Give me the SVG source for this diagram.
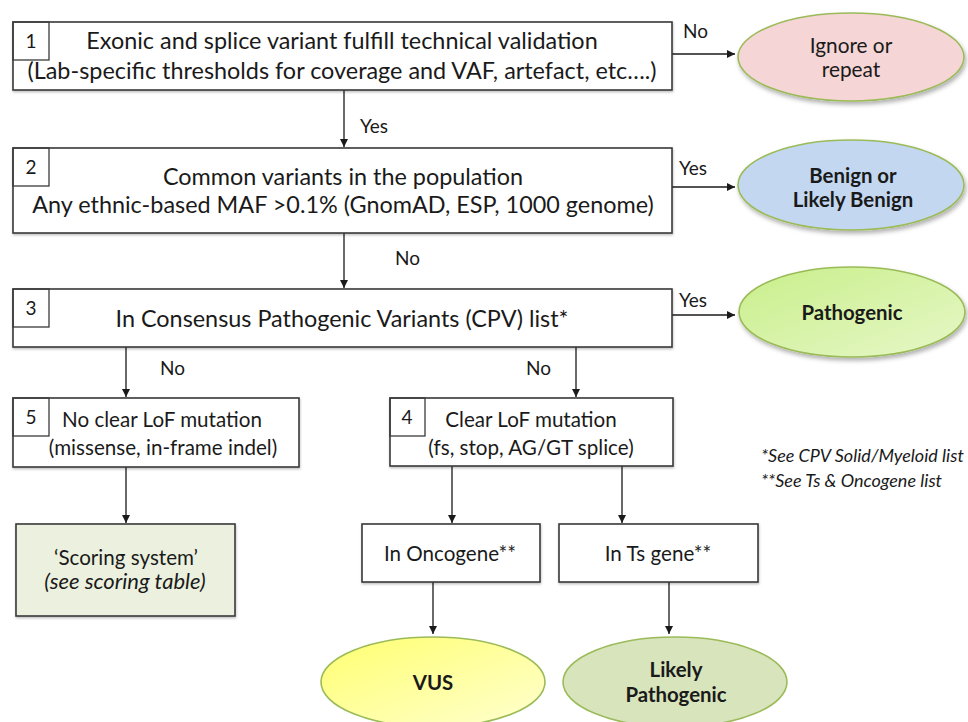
<svg xmlns="http://www.w3.org/2000/svg" width="968" height="722" viewBox="0 0 968 722">
<defs>
<style>
text{font-family:Lato,"Liberation Sans",sans-serif;fill:#1a1a1a}
.box{fill:#fff;stroke:#3a3a3a;stroke-width:1.6}
.num{fill:none;stroke:#3a3a3a;stroke-width:1.3}
.nt{font-size:19px;text-anchor:middle}
.mt{font-size:23.4px;text-anchor:middle}
.st{font-size:20.6px;text-anchor:middle}
.it{font-size:22px;font-style:italic;text-anchor:middle}
.lb{font-size:19px}
.et{font-size:20.8px;text-anchor:middle}
.eb{font-size:20.4px;font-weight:bold;text-anchor:middle}
.fn{font-size:18px;font-style:italic}
.ell{stroke:#9bbb59;stroke-width:1.6}
.conn line{stroke:#1a1a1a;stroke-width:1.3;marker-end:url(#ah)}
</style>
<marker id="ah" viewBox="0 0 10 10" refX="10" refY="5" markerWidth="8" markerHeight="8" markerUnits="userSpaceOnUse" orient="auto">
<path d="M0,0 L10,5 L0,10 z" fill="#1a1a1a"/>
</marker>
<filter id="sh" x="-20%" y="-20%" width="150%" height="160%">
<feDropShadow dx="1.5" dy="3" stdDeviation="2.2" flood-color="#000" flood-opacity="0.3"/>
</filter>
<filter id="bsh" x="-5%" y="-10%" width="110%" height="130%">
<feDropShadow dx="0.5" dy="1.5" stdDeviation="0.8" flood-color="#000" flood-opacity="0.25"/>
</filter>
<linearGradient id="gPath" x1="0" y1="0" x2="1" y2="1">
<stop offset="0" stop-color="#c9ef8a"/>
<stop offset="1" stop-color="#e6f7c8"/>
</linearGradient>
<linearGradient id="gVus" x1="0" y1="0" x2="1" y2="1">
<stop offset="0" stop-color="#ffff70"/>
<stop offset="1" stop-color="#ffffd0"/>
</linearGradient>
</defs>

<g id="connectors" class="conn">
<line x1="672" y1="54" x2="735" y2="54"/>
<line x1="344" y1="90" x2="344" y2="147"/>
<line x1="672" y1="187" x2="735" y2="187"/>
<line x1="344" y1="233" x2="344" y2="288"/>
<line x1="672" y1="315" x2="735" y2="315"/>
<line x1="126" y1="347" x2="126" y2="397"/>
<line x1="576" y1="347" x2="576" y2="397"/>
<line x1="126" y1="467" x2="126" y2="523"/>
<line x1="452" y1="466" x2="452" y2="523"/>
<line x1="622" y1="466" x2="622" y2="523"/>
<line x1="433" y1="582" x2="433" y2="634"/>
<line x1="669" y1="582" x2="669" y2="634"/>
</g>

<g id="labels">
<text class="lb" x="683" y="38">No</text>
<text class="lb" x="360" y="133">Yes</text>
<text class="lb" x="679" y="175">Yes</text>
<text class="lb" x="395" y="265">No</text>
<text class="lb" x="679" y="307">Yes</text>
<text class="lb" x="160" y="375">No</text>
<text class="lb" x="526" y="375">No</text>
</g>

<g id="node1">
<rect class="box" x="13" y="22" width="659" height="68" filter="url(#bsh)"/>
<rect class="num" x="13" y="22" width="36" height="38"/>
<text class="nt" x="31" y="48">1</text>
<text class="mt" x="342" y="49">Exonic and splice variant fulfill technical validation</text>
<text class="mt" x="342" y="79">(Lab-specific thresholds for coverage and VAF, artefact, etc….)</text>
</g>

<g id="node2">
<rect class="box" x="13" y="148" width="659" height="85" filter="url(#bsh)"/>
<rect class="num" x="13" y="148" width="36" height="38"/>
<text class="nt" x="31" y="174">2</text>
<text class="mt" x="343" y="185">Common variants in the population</text>
<text class="mt" x="343" y="213">Any ethnic-based MAF &gt;0.1% (GnomAD, ESP, 1000 genome)</text>
</g>

<g id="node3">
<rect class="box" x="13" y="289" width="659" height="58" filter="url(#bsh)"/>
<rect class="num" x="13" y="289" width="36" height="38"/>
<text class="nt" x="31" y="315">3</text>
<text class="mt" x="342" y="327" font-size="24.5">In Consensus Pathogenic Variants (CPV) list*</text>
</g>

<g id="node5">
<rect class="box" x="13" y="398" width="286" height="69" filter="url(#bsh)"/>
<rect class="num" x="13" y="398" width="36" height="38"/>
<text class="nt" x="31" y="424">5</text>
<text class="st" x="162" y="427">No clear LoF mutation</text>
<text class="st" x="163" y="455">(missense, in-frame indel)</text>
</g>

<g id="node4">
<rect class="box" x="390" y="398" width="283" height="68" filter="url(#bsh)"/>
<rect class="num" x="390" y="398" width="35" height="38"/>
<text class="nt" x="407" y="424">4</text>
<text class="st" x="531" y="427">Clear LoF mutation</text>
<text class="st" x="531" y="455">(fs, stop, AG/GT splice)</text>
</g>

<g id="scoring">
<rect x="16" y="524" width="219" height="92" fill="#ebf1de" stroke="#3a3a3a" stroke-width="1.6" filter="url(#bsh)"/>
<text class="st" x="126" y="565">‘Scoring system’</text>
<text class="it" x="125" y="589">(see scoring table)</text>
</g>

<g id="oncogene">
<rect class="box" x="362" y="524" width="178" height="58" filter="url(#bsh)"/>
<text class="st" x="450" y="561">In Oncogene**</text>
</g>

<g id="tsgene">
<rect class="box" x="559" y="524" width="199" height="58" filter="url(#bsh)"/>
<text class="st" x="658" y="561">In Ts gene**</text>
</g>

<g id="ignore">
<ellipse class="ell" cx="851" cy="57" rx="113" ry="44" fill="#f5d5d5" filter="url(#sh)"/>
<text class="et" x="851" y="53">Ignore or</text>
<text class="et" x="851" y="77">repeat</text>
</g>

<g id="benign">
<ellipse class="ell" cx="851" cy="185" rx="113" ry="45" fill="#c3d8f0" filter="url(#sh)"/>
<text class="eb" x="853" y="183">Benign or</text>
<text class="eb" x="853" y="207">Likely Benign</text>
</g>

<g id="pathogenic">
<ellipse class="ell" cx="852" cy="312" rx="113" ry="45" fill="url(#gPath)" filter="url(#sh)"/>
<text class="eb" x="852" y="320">Pathogenic</text>
</g>

<g id="vus">
<ellipse class="ell" cx="433" cy="682" rx="112" ry="45" fill="url(#gVus)"/>
<text class="eb" x="433" y="690">VUS</text>
</g>

<g id="likely">
<ellipse class="ell" cx="675" cy="682" rx="112" ry="45" fill="#d8e4bc"/>
<text class="eb" x="676" y="677">Likely</text>
<text class="eb" x="676" y="702">Pathogenic</text>
</g>

<g id="footnotes">
<text class="fn" x="761" y="462">*See CPV Solid/Myeloid list</text>
<text class="fn" x="761" y="487">**See Ts &amp; Oncogene list</text>
</g>
</svg>
